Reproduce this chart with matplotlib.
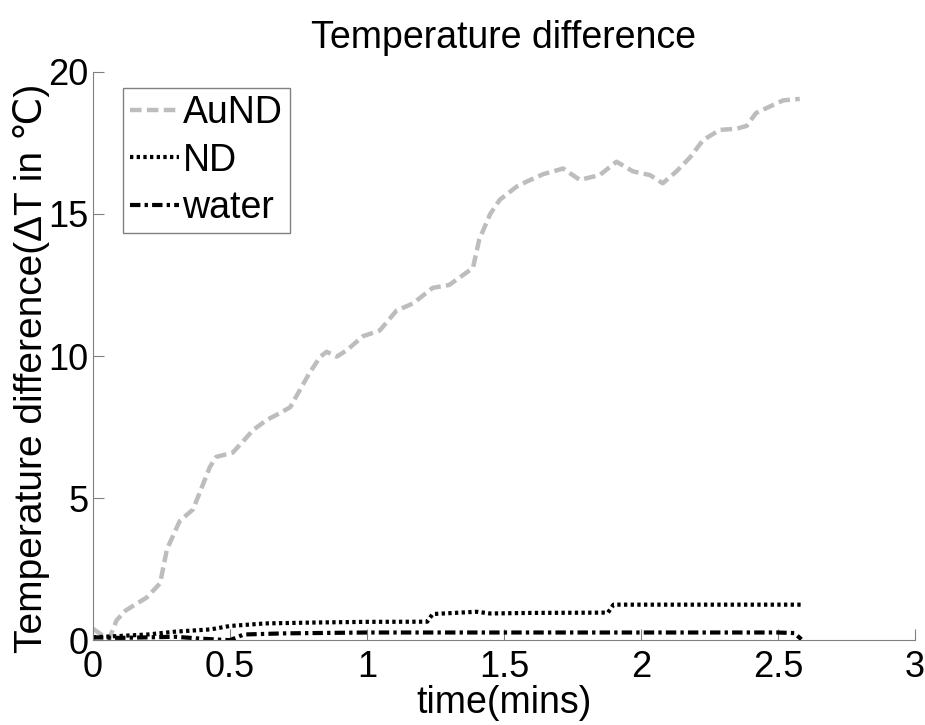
import matplotlib
matplotlib.use("Agg")
import matplotlib.pyplot as plt

plt.rcParams['font.family'] = ['Liberation Sans', 'DejaVu Sans']

# AuND curve
aund_t = [0.0, 0.03, 0.06, 0.086, 0.12, 0.196, 0.245, 0.27, 0.317, 0.365, 0.39, 0.427,
          0.45, 0.51, 0.548, 0.585, 0.634, 0.68, 0.72, 0.755, 0.79, 0.83, 0.853, 0.89,
          0.926, 0.986, 1.047, 1.108, 1.168, 1.24, 1.30, 1.387, 1.41, 1.45, 1.485,
          1.546, 1.583, 1.643, 1.716, 1.777, 1.85, 1.911, 1.971, 2.033, 2.08, 2.13,
          2.18, 2.227, 2.288, 2.349, 2.386, 2.42, 2.47, 2.52, 2.58]
aund_v = [0.4, 0.2, 0.05, 0.7, 1.05, 1.5, 2.0, 3.2, 4.2, 4.6, 5.2, 6.1,
          6.45, 6.6, 7.0, 7.4, 7.75, 7.98, 8.2, 8.8, 9.4, 9.98, 10.15, 9.98,
          10.2, 10.7, 10.9, 11.6, 11.85, 12.4, 12.5, 13.1, 14.1, 15.0, 15.5,
          15.96, 16.14, 16.4, 16.6, 16.2, 16.37, 16.84, 16.5, 16.37, 16.08, 16.5,
          17.0, 17.6, 17.96, 18.0, 18.1, 18.55, 18.78, 19.0, 19.05]

nd_t = [0.0, 0.1, 0.2, 0.3, 0.43, 0.5, 0.63, 0.8, 1.0, 1.22, 1.24, 1.40, 1.45,
        1.6, 1.88, 1.9, 2.2, 2.4, 2.586]
nd_v = [0.1, 0.15, 0.2, 0.3, 0.38, 0.5, 0.59, 0.62, 0.645, 0.65, 0.92, 1.0, 0.94,
        0.96, 0.97, 1.25, 1.25, 1.25, 1.25]

water_t = [0.0, 0.1, 0.2, 0.3, 0.4, 0.5, 0.55, 0.7, 1.0, 1.5, 2.0, 2.5, 2.56, 2.586]
water_v = [0.1, 0.08, 0.1, 0.12, 0.05, 0.0, 0.2, 0.24, 0.27, 0.27, 0.27, 0.27, 0.25, 0.03]

fig = plt.figure(figsize=(9.25, 7.25), dpi=100)
ax = fig.add_axes([0.1005, 0.117, 0.8885, 0.7838])

ax.plot(aund_t, aund_v, color='#bdbdbd', linestyle=(0, (2.6, 1.2)), linewidth=3.2, label='AuND')
ax.plot(nd_t, nd_v, color='black', linestyle=(0, (0.8, 0.8)), linewidth=3, label='ND')
ax.plot(water_t, water_v, color='black', linestyle=(0, (2.5, 1.0, 0.8, 1.0)), linewidth=3, label='water')

ax.set_xlim(0, 3)
ax.set_ylim(0, 20)
ax.set_xticks([0, 0.5, 1, 1.5, 2, 2.5, 3])
ax.set_xticklabels(['0', '0.5', '1', '1.5', '2', '2.5', '3'])
ax.set_yticks([0, 5, 10, 15, 20])

for side in ['top', 'right']:
    ax.spines[side].set_visible(False)
for side in ['left', 'bottom']:
    ax.spines[side].set_color('#808080')
ax.tick_params(direction='in', length=8, color='#808080', labelsize=26)
ax.tick_params(axis='x', pad=7)
ax.tick_params(axis='y', pad=3)

ax.set_title('Temperature difference', fontsize=27, pad=17)
ax.set_xlabel('time(mins)', fontsize=27, labelpad=0)
ax.set_ylabel('Temperature difference(ΔT in ℃)', fontsize=28)
ax.yaxis.set_label_coords(-0.052, 0.479)

leg = ax.legend(loc='upper left', bbox_to_anchor=(0.036, 0.972), fontsize=27,
                handlelength=1.3, handletextpad=0.1, borderpad=0.2, labelspacing=0.3,
                fancybox=False, framealpha=1, borderaxespad=0)
leg.get_frame().set_edgecolor('#808080')
leg.get_frame().set_linewidth(1)

fig.savefig('out.png', dpi=100)
